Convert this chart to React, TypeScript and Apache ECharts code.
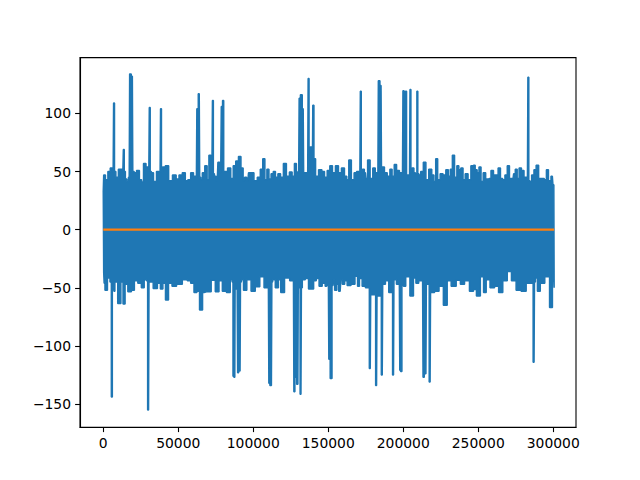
import React, { useEffect, useRef } from "react";
import * as echarts from "echarts";

const upperX = [0,600,2300,3900,5400,6600,7200,7800,9000,11200,12100,13100,13700,14300,15200,16300,17300,17900,19400,20000,21200,23200,25000,26100,27600,29400,30400,31000,31600,32500,34500,36500,37900,38500,39100,40100,42700,44500,47800,49400,51600,53800,55600,57200,59400,60900,62100,62700,64000,64600,65400,66700,68700,69800,71100,72500,73100,73700,74500,76000,76900,78300,79100,80000,80600,81800,84000,86000,87300,89400,90900,92700,93800,94700,96400,97300,99300,101600,103800,105600,107100,108400,109800,111100,112700,114000,115600,117300,119100,121100,123100,125100,126700,128200,129300,130300,130900,132000,133300,133900,135100,136300,136900,137500,138200,139400,140000,140900,142200,144900,146600,148400,150200,151900,153700,155900,157700,159900,161700,163000,164400,166400,168100,169700,171100,171700,172300,173300,174800,175500,177000,178800,180600,182100,183100,183700,185200,185800,186600,188300,190300,191900,193200,194800,196300,198600,199500,200100,201000,201900,202500,203200,204200,204800,205400,206300,207900,208800,209400,210000,210800,212500,214300,215900,218100,219900,221000,222300,223600,225600,227400,229400,230700,232100,233400,235000,236500,237600,239200,240500,242100,244300,245900,247200,248700,249800,251200,252500,254100,255800,257600,259400,260900,262500,264000,265600,266900,268700,270000,271600,273200,274000,275400,276500,278000,279600,281400,282800,283400,284000,284700,286500,287800,289400,291100,293100,294900,296000,297600,299400,300200,300600];
const upperY = [33,47,43,50,53,50,109,50,45,52,52,52,69,50,43.5,41.5,45,134,132,50,49,51,43,41,57,54,54,105,50,49,41.5,50,50,104,50,54,55,42,47,43.5,47,49,42,43,49,46,46,104,117,45,43,49,55,43,64,60,111,48,46,42,58,49,106,111,50,50,53,44,55,59,63,53,42,45,42,49,49,42,45,52,61,43,52,43.5,48,50,45,48,45,57,46,49.5,46,57,49,50,113,116,104,49,49,49,130,60,71,49,107,61,46,51.5,50,45,51,55,49,55,49,53,46,43,60,43,49,50,50,119,50,52,49,44,60,44,53,49,49,128,124,50,54,49,46,52,46,56,51,49,49,119.5,103,119,47,47,47,120.6,50,53,49,48,119,48,47,50,58,43,52,47,41.5,61,43,48,47,51.5,46,52,64,45,55,51.5,53,43,48,43,55,55.5,51.5,49,54,41.5,49,43.5,44,51,47,47,53,44,43,47,55,44,44,48,52,44,53,51,45,45,131,42,41.5,47,51.5,55.5,44,44,43,51.5,42,46,38.6,34];

const lowerX = [0,600,1700,3900,5100,5700,6400,7200,8300,11000,12500,13900,15200,17600,19900,21600,24500,26300,28300,29300,29900,30500,31600,35000,37200,39000,40500,42500,44500,47200,50500,54900,57200,59400,61600,63200,65200,67200,70500,73400,76000,78300,80500,83800,85500,86300,86700,87500,87900,89000,89600,90900,91500,92700,94300,97100,100000,102700,106000,108400,109800,110400,111800,112400,113400,116000,117600,119100,122600,126000,126500,127100,128400,129500,130000,131000,131500,132100,133300,136000,137700,139500,141000,143000,144800,147100,148800,149800,150400,152200,152800,153500,155000,156400,157500,158400,160400,161500,163700,166600,169000,170100,171500,173700,175900,177100,177700,178300,179500,181300,181900,182500,183500,185100,185700,186300,187000,189200,191500,192600,193200,193800,194600,196300,197100,197700,198800,199400,200300,203000,205900,207700,209200,211400,212600,213200,214800,215400,215900,217000,217600,218200,219200,222500,225200,228300,230300,233600,237000,239200,242500,245800,247800,249800,253000,254100,256500,259200,262500,264700,268000,270700,273600,276900,280300,283600,286300,286900,287500,288700,290200,292500,296200,298900,300000,300600];
const lowerY = [-37,-46,-52,-41.5,-45,-144,-50,-53,-45,-63.5,-45,-64,-47,-53.5,-52,-44,-46,-50,-43,-44,-155,-45,-45,-50.6,-46,-51,-46,-60.6,-46,-48.6,-47,-43,-44,-46,-54,-53,-69,-54,-53.5,-43.5,-53.5,-44,-53,-54,-43,-45,-126,-127,-51,-51,-123,-121.5,-45,-43,-52,-43,-53,-49,-40.6,-50,-50,-132,-134,-45,-43,-50,-43,-54,-41.5,-44,-44,-139.5,-127,-133,-50,-50,-141.5,-50,-43,-42,-51,-51,-44,-42,-48.6,-46,-48.6,-48,-111.5,-128,-48,-43,-52,-47,-53,-43,-47,-44,-48,-47,-40,-48.6,-42,-48.6,-50,-50,-119.5,-55,-56,-56,-134,-56,-57,-57,-125,-47,-47,-44,-54,-54,-125,-43,-43,-47,-47,-121,-122,-48,-48.6,-40.6,-57,-41.5,-46,-44,-44,-127,-124,-47,-47,-47,-131,-54,-54,-53,-48.6,-65,-44,-48.6,-43.5,-47,-44,-53,-51.5,-57,-40.6,-54,-43,-50,-48.6,-54,-44,-36,-44,-52,-53,-46,-46,-114,-45,-41.5,-53,-46,-40.6,-67,-38.6,-50];

const trendX = [0, 300600];
const trendY = [0, 0];

const xTicks = [0, 50000, 100000, 150000, 200000, 250000, 300000];
const yTicks = [-150, -100, -50, 0, 50, 100];

const signal: number[][] = [];
upperX.forEach((x, i) => signal.push([x, upperY[i]]));
for (let i = lowerX.length - 1; i >= 0; i--) signal.push([lowerX[i], lowerY[i]]);
signal.push([upperX[0], upperY[0]]);

export default function App() {
  const ref = useRef<HTMLDivElement>(null);
  useEffect(() => {
    document.body.style.margin = "0";
    const chart = echarts.init(ref.current!, null, { renderer: "svg" });
    const axisBase = {
      type: "value" as const,
      splitLine: { show: false },
      axisLine: { show: true, onZero: false, lineStyle: { color: "#000", width: 1.1 } },
    };
    const labelStyle = { color: "#000", fontSize: 13.89, fontFamily: "DejaVu Sans" };
    chart.setOption({
      animation: false,
      backgroundColor: "#fff",
      grid: {
        left: 80, right: 64, top: 57.6, bottom: 52.8,
        show: true, borderColor: "#000", borderWidth: 1.1, backgroundColor: "transparent",
      },
      xAxis: {
        ...axisBase,
        min: -15500,
        max: 315170,
        axisTick: { show: true, length: 4.9, customValues: xTicks, lineStyle: { color: "#000", width: 1.1 } },
        axisLabel: { ...labelStyle, margin: 9, customValues: xTicks, formatter: (v: number) => String(v) },
      },
      yAxis: {
        ...axisBase,
        min: -169.9,
        max: 148,
        axisTick: { show: true, length: 4.9, customValues: yTicks, lineStyle: { color: "#000", width: 1.1 } },
        axisLabel: {
          ...labelStyle, margin: 9, customValues: yTicks,
          formatter: (v: number) => String(v).replace("-", "\u2212"),
        },
      },
      series: [
        {
          type: "line", data: signal, showSymbol: false, silent: true, step: "middle",
          lineStyle: { color: "#1f77b4", width: 1.5 },
          areaStyle: { color: "#1f77b4", opacity: 1, origin: 0 },
        },
        {
          type: "line", data: trendX.map((x, i) => [x, trendY[i]]), showSymbol: false, silent: true,
          lineStyle: { color: "#ff7f0e", width: 2.4 },
        },
      ],
    });
    return () => chart.dispose();
  }, []);
  return <div ref={ref} style={{ width: 640, height: 480 }} />;
}
